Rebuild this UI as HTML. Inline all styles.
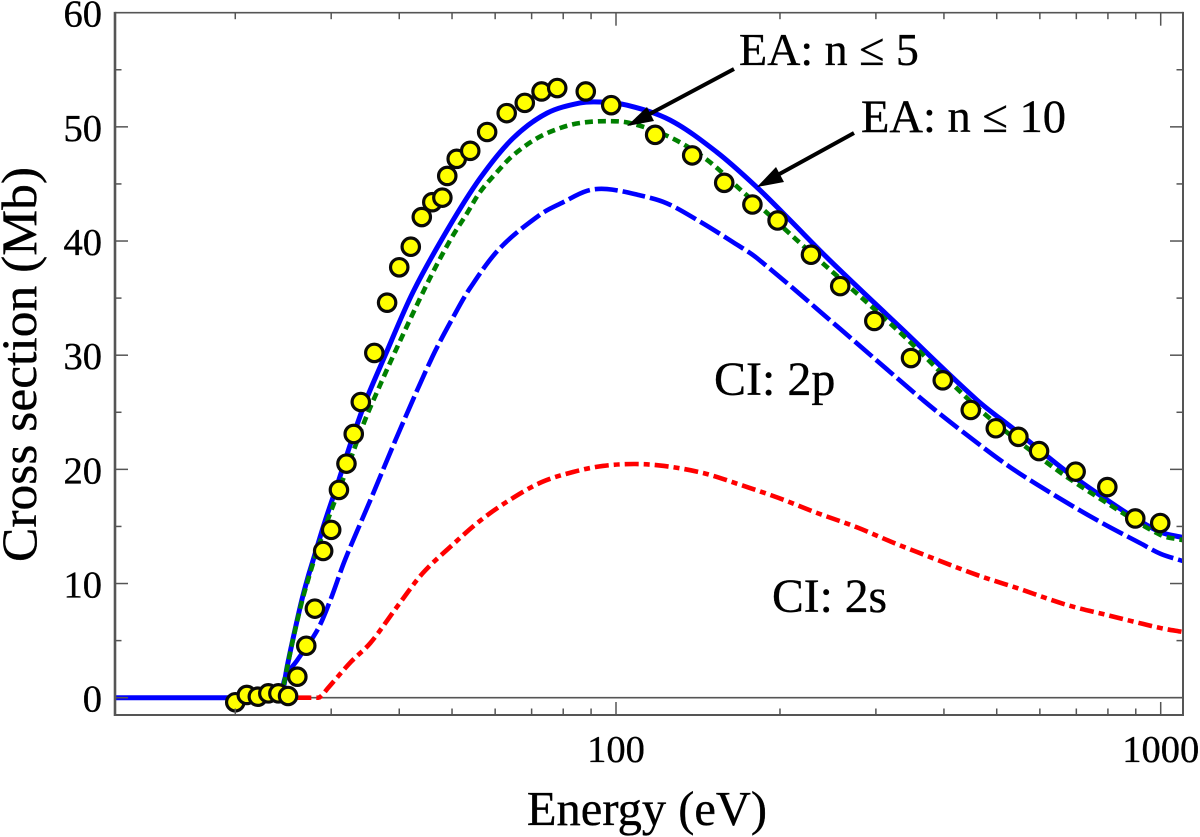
<!DOCTYPE html>
<html>
<head>
<meta charset="utf-8">
<title>Cross section vs energy</title>
<style>
html,body{margin:0;padding:0;background:#fff;width:1200px;height:837px;overflow:hidden}
svg{display:block}
text{font-family:"Liberation Serif","Noto Serif CJK SC",serif;fill:#000;stroke:#000;stroke-width:0.35px}
</style>
</head>
<body>
<svg id="chart" width="1200" height="837" viewBox="0 0 1200 837" xmlns="http://www.w3.org/2000/svg">
  <rect x="0" y="0" width="1200" height="837" fill="#fff"/>
  <g id="series"></g>
  <g id="points"></g>
  <g id="axes"></g>
  <text x="647" y="825" font-size="48.5" text-anchor="middle">Energy (eV)</text>
  <text transform="translate(36 364.5) rotate(-90)" font-size="50" text-anchor="middle" textLength="395" lengthAdjust="spacingAndGlyphs">Cross section (Mb)</text>
  <text x="739" y="65" font-size="46">EA: n ≤ 5</text>
  <text x="861" y="132" font-size="46.5">EA: n ≤ 10</text>
  <text x="714" y="395" font-size="48">CI: 2p</text>
  <text x="772" y="612" font-size="47.6">CI: 2s</text>
  <g>
    <line x1="734" y1="69" x2="644" y2="117" stroke="#000" stroke-width="4"/>
    <polygon points="627,126 647,107 654,121" fill="#000"/>
  </g>
  <g>
    <line x1="854" y1="133" x2="774" y2="177" stroke="#000" stroke-width="4"/>
    <polygon points="757,187 776,167 784,182" fill="#000"/>
  </g>
</svg>
<script>
// ---- data ----
const solidEnergy = [12,20,23,24,24.3,24.9,25.5,26.5,27.2,27.8,29.2,30.9,32.5,34.6,37.7,42.4,49,56.3,64.7,74.7,85.9,93.4,104.8,125.6,153,181.5,206,247,332,460,540,673,797,889,1000,1099];
const solidValues = [0,0,0,0,0,2.7,5.05,8.56,10.57,12.06,15.39,18.89,22.13,25.82,30,35.53,40.96,45.5,49,51.2,52.09,52.18,51.9,50.6,47.8,44.7,42.1,38.3,32.47,26.07,23.45,19.78,17.32,15.84,14.5,14.03];
const dottedEnergy = [24.3,24.9,25.5,26.5,27.2,27.8,29.2,30.9,32.5,34.6,36.9,39.3,43.3,46.5,50,53.3,56.3,60.5,64.7,71.6,79,85.9,96.3,106,125.6,147,171,189,218,332,466,634,797,1000,1099];
const dottedValues = [0,2.6,5,8.4,10.3,11.8,14.86,18,20.8,24.3,27.4,30.3,34.6,37.6,40.35,42.45,44.3,46.05,47.5,49,49.9,50.34,50.5,50.34,49.1,47.1,44.3,42.5,39.8,32,25.2,20.2,17.05,14.25,13.8];
const dashedEnergy = [24.3,24.7,26,28.3,29.9,31.8,35.4,40.1,46,50.2,54,61.3,72.5,80,88.5,96.3,110.7,124,142.6,164,181.5,258,366,441,529,645,774,916,1000,1099];
const dashedValues = [0,1.8,3.3,5.93,8.56,12.06,17.3,23.45,29.84,33.3,35.9,39.4,42.3,43.4,44.4,44.55,44,43.3,41.7,39.9,38.5,32.3,26.07,23,20.2,17.6,15.4,13.55,12.6,11.97];
const dashDotEnergy = [26,27,28,28.6,29.6,32.6,35.4,39.6,44.2,49.6,56.5,64.2,73.1,83.4,94.6,107.9,122.5,144.5,169.6,199,234,276,324,357,460,545,673,797,1000,1099];
const dashDotValues = [0,0,0,0.05,0.85,3.13,4.79,7.94,10.92,13.2,15.56,17.4,18.89,19.77,20.3,20.47,20.3,19.68,18.63,17.49,16.18,14.95,13.55,12.76,10.75,9.6,8.12,7.24,6.1,5.75];
const pointEnergy = [20,21,22,23,24,25,26,27,28,29,30,31,32,33,34,36,38,40,42,44,46,48,49,51,54,58,63,68,73,78,88,98,118,138,158,178,198,228,258,298,348,398,448,498,548,598,698,798,898,998];
const pointValues = [-0.4,0.24,0.09,0.38,0.38,0.15,1.84,4.55,7.8,12.85,14.7,18.2,20.5,23.1,25.9,30.2,34.6,37.7,39.5,42.1,43.4,43.8,45.7,47.2,47.9,49.55,51.2,52.1,53.1,53.4,53.1,51.9,49.3,47.5,45.1,43.2,41.8,38.8,36.05,33,29.75,27.8,25.2,23.6,22.85,21.6,19.8,18.45,15.7,15.3];
const xMajorTicks = [100,1000];
const xMinorTicks = [20,30,40,50,60,70,80,90,200,300,400,500,600,700,800,900];
const yMajorTicks = [0,10,20,30,40,50,60];
const yMinorTicks = [5,15,25,35,45,55];

// ---- axis functions ----
const NS = 'http://www.w3.org/2000/svg';
const LEFT = 115, RIGHT = 1183, TOP = 12.7, BOTTOM = 715;
const AXIS = '#555';
const xScale = e => 616 + 544.7 * Math.log10(e / 100);
const yScale = v => 697.7 - 11.417 * v;

function tangent(a, c) {
  const dx = c[0] - a[0], dy = c[1] - a[1];
  const len = Math.hypot(dx, dy) || 1;
  return [dx / len, dy / len];
}

function smoothPath(xs, ys) {
  const p = xs.map((e, i) => [xScale(e), yScale(ys[i])]);
  let d = 'M' + p[0][0].toFixed(2) + ' ' + p[0][1].toFixed(2);
  for (let i = 0; i < p.length - 1; i++) {
    const a = p[Math.max(i - 1, 0)], b = p[i], c = p[i + 1], f = p[Math.min(i + 2, p.length - 1)];
    const seg = Math.hypot(c[0] - b[0], c[1] - b[1]) / 3;
    const t1 = tangent(a, c), t2 = tangent(b, f);
    d += 'C' + (b[0] + t1[0] * seg).toFixed(2) + ' ' + (b[1] + t1[1] * seg).toFixed(2) + ' ' +
         (c[0] - t2[0] * seg).toFixed(2) + ' ' + (c[1] - t2[1] * seg).toFixed(2) + ' ' +
         c[0].toFixed(2) + ' ' + c[1].toFixed(2);
  }
  return d;
}

function drawLine(parent, x1, y1, x2, y2, w, name) {
  const l = document.createElementNS(NS, 'line');
  l.setAttribute('x1', x1);
  l.setAttribute('y1', y1);
  l.setAttribute('x2', x2);
  l.setAttribute('y2', y2);
  l.setAttribute('stroke', AXIS);
  l.setAttribute('stroke-width', w);
  
  
  parent.appendChild(l);
}

function drawLabel(parent, x, y, str, anchor, name) {
  const t = document.createElementNS(NS, 'text');
  t.setAttribute('x', x);
  t.setAttribute('y', y);
  t.setAttribute('font-size', '38.5');
  t.setAttribute('text-anchor', anchor);
  t.textContent = str;
  
  
  parent.appendChild(t);
}

function drawSeries(xs, ys, color, dash, width, name) {
  const path = document.createElementNS(NS, 'path');
  path.setAttribute('d', smoothPath(xs, ys));
  path.setAttribute('fill', 'none');
  path.setAttribute('stroke', color);
  path.setAttribute('stroke-width', width);
  if (dash) path.setAttribute('stroke-dasharray', dash);
  
  
  document.getElementById('series').appendChild(path);
}

// ---- axes ----
const axes = document.getElementById('axes');
const series = document.getElementById('series');
drawLine(series, LEFT, yScale(0), RIGHT, yScale(0), 1.6, 'zero-line');
drawLine(axes, LEFT, TOP - 0.8, LEFT, BOTTOM + 1, 2.6, 'y-axis-left');
drawLine(axes, RIGHT, TOP - 0.8, RIGHT, BOTTOM + 1, 2, 'y-axis-right');
drawLine(axes, LEFT, TOP, RIGHT, TOP, 1.6, 'x-axis-top');
drawLine(axes, LEFT, BOTTOM, RIGHT, BOTTOM, 2, 'x-axis-bottom');

xMajorTicks.forEach(e => {
  drawLine(axes, xScale(e), BOTTOM, xScale(e), BOTTOM - 13, 1.5, 'x-major-tick');
  drawLine(axes, xScale(e), TOP, xScale(e), TOP + 13, 1.5, 'x-major-tick-top');
  drawLabel(axes, xScale(e), 762, String(e), 'middle', 'x-tick-label');
});
xMinorTicks.forEach(e => {
  drawLine(axes, xScale(e), BOTTOM, xScale(e), BOTTOM - 6.5, 1.5, 'x-minor-tick');
  drawLine(axes, xScale(e), TOP, xScale(e), TOP + 6.5, 1.5, 'x-minor-tick-top');
});
yMajorTicks.forEach(v => {
  if (v !== 60) {
    drawLine(axes, LEFT, yScale(v), LEFT + 13, yScale(v), 1.5, 'y-major-tick');
    drawLine(axes, RIGHT, yScale(v), RIGHT - 13, yScale(v), 1.5, 'y-major-tick-right');
  }
  drawLabel(axes, 102, yScale(v) + 14, String(v), 'end', 'y-tick-label');
});
yMinorTicks.forEach(v => {
  drawLine(axes, LEFT, yScale(v), LEFT + 6.5, yScale(v), 1.5, 'y-minor-tick');
  drawLine(axes, RIGHT, yScale(v), RIGHT - 6.5, yScale(v), 1.5, 'y-minor-tick-right');
});

// ---- series ----
drawSeries(dashDotEnergy, dashDotValues, '#ff0000', '14 5 6 5', '4.6', 'series-ci-2s');
drawSeries(dashedEnergy, dashedValues, '#0000ff', '23 5', '4.6', 'series-ci-2p');
drawSeries(solidEnergy, solidValues, '#0000ff', '', '5', 'series-ea-n10');
drawSeries(dottedEnergy, dottedValues, '#008000', '8 5', '4.6', 'series-ea-n5');

// ---- points ----
const pts = document.getElementById('points');
pointEnergy.forEach((e, i) => {
  const c = document.createElementNS(NS, 'circle');
  c.setAttribute('cx', xScale(e).toFixed(2));
  c.setAttribute('cy', yScale(pointValues[i]).toFixed(2));
  c.setAttribute('r', '8.7');
  c.setAttribute('fill', '#ffff00');
  c.setAttribute('stroke', '#0a0a0a');
  c.setAttribute('stroke-width', '3.2');
  
  
  pts.appendChild(c);
});
</script>
</body>
</html>
